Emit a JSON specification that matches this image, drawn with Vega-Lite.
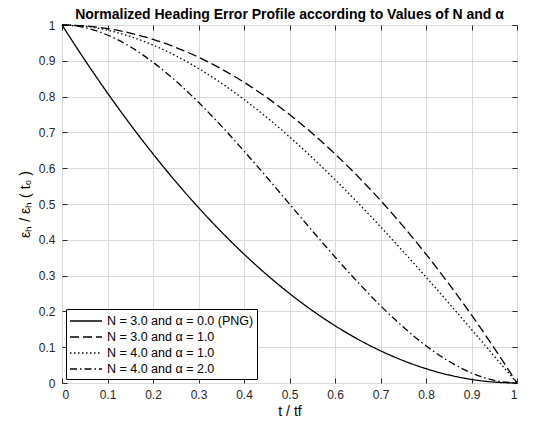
{
  "$schema": "https://vega.github.io/schema/vega-lite/v6.json",
  "width": 455,
  "height": 358,
  "autosize": {"type": "none"},
  "padding": {"left": 62, "top": 25, "right": 16, "bottom": 51},
  "background": "white",
  "title": {"text": "Normalized Heading Error Profile according to Values of N and α", "font": "Liberation Sans", "fontSize": 14, "fontWeight": "bold", "color": "black", "anchor": "middle", "offset": -3},
  "config": {
    "view": {"stroke": "black", "strokeWidth": 1},
    "axis": {"domain": false, "tickColor": "#262626", "tickSize": -5, "labelFont": "Liberation Sans", "labelFontSize": 12, "labelColor": "#262626", "titleFont": "Liberation Sans", "titleFontSize": 14, "titleFontWeight": "normal", "titleColor": "black", "gridColor": "#d9d9d9", "gridWidth": 1},
    "legend": {"orient": "bottom-left", "offset": 4, "strokeColor": "black", "fillColor": "white", "padding": 3, "labelFont": "Liberation Sans", "labelFontSize": 12.5, "labelColor": "black", "symbolType": "M-1,0H3", "symbolSize": 256, "symbolStrokeWidth": 1.3, "symbolStrokeColor": "black", "symbolFillColor": "transparent", "rowPadding": 0, "labelOffset": 20, "cornerRadius": 0}
  },
  "data": {"values": [
    {"x": 0, "a": 1, "b": 1, "c": 1, "d": 1},
    {"x": 0.05, "a": 0.9025, "b": 0.9975, "c": 0.9963, "d": 0.9928},
    {"x": 0.1, "a": 0.81, "b": 0.99, "c": 0.9855, "d": 0.972},
    {"x": 0.15, "a": 0.7225, "b": 0.9775, "c": 0.9679, "d": 0.9393},
    {"x": 0.2, "a": 0.64, "b": 0.96, "c": 0.944, "d": 0.896},
    {"x": 0.25, "a": 0.5625, "b": 0.9375, "c": 0.9141, "d": 0.8438},
    {"x": 0.3, "a": 0.49, "b": 0.91, "c": 0.8785, "d": 0.784},
    {"x": 0.35, "a": 0.4225, "b": 0.8775, "c": 0.8377, "d": 0.7183},
    {"x": 0.4, "a": 0.36, "b": 0.84, "c": 0.792, "d": 0.648},
    {"x": 0.45, "a": 0.3025, "b": 0.7975, "c": 0.7418, "d": 0.5748},
    {"x": 0.5, "a": 0.25, "b": 0.75, "c": 0.6875, "d": 0.5},
    {"x": 0.55, "a": 0.2025, "b": 0.6975, "c": 0.6294, "d": 0.4253},
    {"x": 0.6, "a": 0.16, "b": 0.64, "c": 0.568, "d": 0.352},
    {"x": 0.65, "a": 0.1225, "b": 0.5775, "c": 0.5036, "d": 0.2818},
    {"x": 0.7, "a": 0.09, "b": 0.51, "c": 0.4365, "d": 0.216},
    {"x": 0.75, "a": 0.0625, "b": 0.4375, "c": 0.3672, "d": 0.1563},
    {"x": 0.8, "a": 0.04, "b": 0.36, "c": 0.296, "d": 0.104},
    {"x": 0.85, "a": 0.0225, "b": 0.2775, "c": 0.2233, "d": 0.0608},
    {"x": 0.9, "a": 0.01, "b": 0.19, "c": 0.1495, "d": 0.028},
    {"x": 0.95, "a": 0.0025, "b": 0.0975, "c": 0.0749, "d": 0.0073},
    {"x": 1, "a": 0, "b": 0, "c": 0, "d": 0}
  ]},
  "transform": [{"fold": ["a", "b", "c", "d"], "as": ["s", "y"]}],
  "resolve": {"axis": {"x": "independent", "y": "independent"}},
  "layer": [
    {
      "mark": {"type": "line", "strokeWidth": 1.3, "interpolate": "monotone"},
      "encoding": {
        "x": {"field": "x", "type": "quantitative", "scale": {"domain": [0, 1], "nice": false}, "axis": {"title": "t / tf", "values": [0, 0.1, 0.2, 0.3, 0.4, 0.5, 0.6, 0.7, 0.8, 0.9, 1], "format": "~g", "labelPadding": 11, "titlePadding": 4, "grid": true}},
        "y": {"field": "y", "type": "quantitative", "scale": {"domain": [0, 1], "nice": false}, "axis": {"title": "εₕ / εₕ ( t₀ )", "values": [0, 0.1, 0.2, 0.3, 0.4, 0.5, 0.6, 0.7, 0.8, 0.9, 1], "format": "~g", "labelPadding": 12, "titlePadding": 6, "grid": true}},
        "color": {"value": "black"},
        "strokeDash": {"field": "s", "type": "nominal", "scale": {"domain": ["a", "b", "c", "d"], "range": [[1, 0], [9, 4], [1.5, 2.5], [7, 3, 1.5, 3]]}, "legend": {"title": null, "labelExpr": "datum.label == 'a' ? 'N = 3.0 and α = 0.0 (PNG)' : datum.label == 'b' ? 'N = 3.0 and α = 1.0' : datum.label == 'c' ? 'N = 4.0 and α = 1.0' : 'N = 4.0 and α = 2.0'"}}
      }
    },
    {
      "mark": {"type": "line", "strokeOpacity": 0},
      "encoding": {
        "x": {"field": "x", "type": "quantitative", "scale": {"domain": [0, 1], "nice": false}, "axis": {"orient": "top", "title": null, "labels": false, "grid": false, "values": [0, 0.1, 0.2, 0.3, 0.4, 0.5, 0.6, 0.7, 0.8, 0.9, 1]}},
        "y": {"field": "y", "type": "quantitative", "scale": {"domain": [0, 1], "nice": false}, "axis": {"orient": "right", "title": null, "labels": false, "grid": false, "values": [0, 0.1, 0.2, 0.3, 0.4, 0.5, 0.6, 0.7, 0.8, 0.9, 1]}},
        "detail": {"field": "s", "type": "nominal"}
      }
    }
  ]
}
